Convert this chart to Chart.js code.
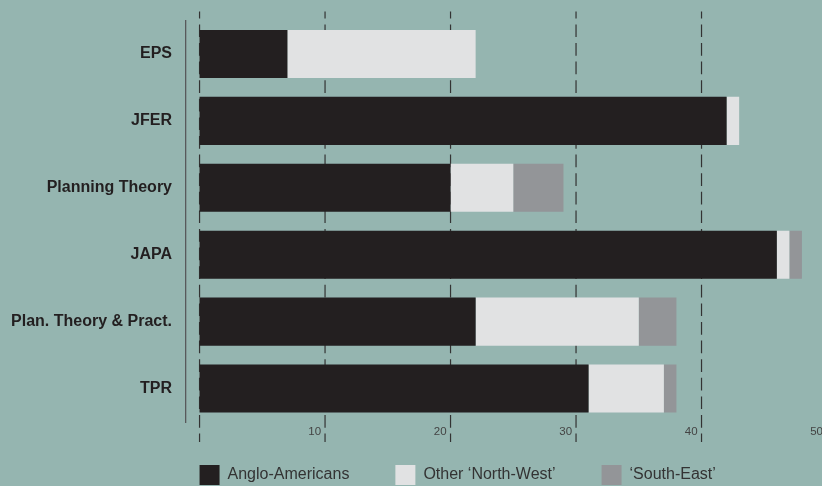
<!DOCTYPE html>
<html>
<head>
<meta charset="utf-8">
<script src="https://cdn.jsdelivr.net/npm/chart.js@4.4.1/dist/chart.umd.min.js"></script>
<style>
    html, body { margin: 0; padding: 0; background: #95b5b0; }
    #wrap { width: 822px; height: 486px; }
</style>
</head>
<body>
<div id="wrap"><canvas id="journalChart" width="822" height="486"></canvas></div>
<script>
const journals = ["EPS", "JFER", "Planning Theory", "JAPA", "Plan. Theory & Pract.", "TPR"];
const angloAmericans = [7, 42, 20, 46, 22, 31];
const otherNorthWest = [15, 1, 5, 1, 13, 6];
const southEast = [0, 0, 4, 1, 3, 1];
const xTicks = [0, 10, 20, 30, 40, 50];

document.addEventListener("DOMContentLoaded", function () {
    Chart.defaults.font.family = "'Liberation Sans', Arial, sans-serif";

    const legendGap = 43; // space between plot bottom and legend boxes

    // dashed vertical lines at each x tick, drawn a bit past the plot area
    const dashedGrid = {
        id: "dashedGrid",
        beforeDatasetsDraw(chart) {
            const { ctx, chartArea, scales } = chart;
            ctx.save();
            ctx.strokeStyle = "#333";
            ctx.lineWidth = 1.2;
            ctx.setLineDash([12.7, 5.9]);
            ctx.lineDashOffset = 5.7;
            xTicks.forEach(v => {
                const px = scales.x.getPixelForValue(v);
                ctx.beginPath();
                ctx.moveTo(px, chartArea.top - 9);
                ctx.lineTo(px, chartArea.bottom + 20);
                ctx.stroke();
            });
            ctx.restore();
        }
    };

    // line the legend up with the start of the bars
    const legendShift = {
        id: "legendShift",
        afterLayout(chart) {
            const lg = chart.legend;
            if (!lg) return;
            const pad = lg.options.labels.padding;
            const dx = chart.scales.x.getPixelForValue(0) - (lg.left + pad);
            const dy = (chart.chartArea.bottom + legendGap - pad) - lg.top;
            lg.left += dx;
            lg.right += dx;
            lg.top += dy;
            lg.bottom += dy;
        }
    };

    new Chart(document.getElementById("journalChart"), {
        type: "bar",
        data: {
            labels: journals,
            datasets: [
                { label: "Anglo-Americans", data: angloAmericans, backgroundColor: "#231f20" },
                { label: "Other \u2018North-West\u2019", data: otherNorthWest, backgroundColor: "#e1e2e3" },
                { label: "\u2018South-East\u2019", data: southEast, backgroundColor: "#939598" }
            ]
        },
        options: {
            indexAxis: "y",
            responsive: false,
            animation: false,
            datasets: { bar: { barPercentage: 0.718, categoryPercentage: 1, borderWidth: 0 } },
            layout: { padding: { top: 20.5, bottom: -30, left: 0, right: 0 } },
            scales: {
                x: {
                    type: "linear",
                    stacked: true,
                    min: -1.08,
                    max: 49.6,
                    afterBuildTicks: scale => { scale.ticks = xTicks.map(v => ({ value: v })); },
                    afterFit: scale => {
                        scale.height = 18;
                        scale.paddingLeft = 0;
                        scale.paddingRight = 0;
                    },
                    grid: { display: false, drawTicks: false },
                    border: { display: false },
                    ticks: {
                        autoSkip: false,
                        maxRotation: 0,
                        align: "end",
                        labelOffset: -4,
                        padding: 3,
                        color: "#444",
                        font: { size: 11.5 },
                        callback: v => (v === 0 ? "" : v)
                    }
                },
                y: {
                    type: "category",
                    stacked: true,
                    afterFit: scale => {
                        scale.width = 186;
                        scale.paddingTop = 0;
                        scale.paddingBottom = 0;
                    },
                    grid: { display: false, drawTicks: false },
                    border: { display: true, color: "#58595b", width: 1.3 },
                    ticks: {
                        padding: 14,
                        color: "#231f20",
                        font: { size: 16, weight: "bold" }
                    }
                }
            },
            plugins: {
                tooltip: { enabled: false },
                legend: {
                    position: "bottom",
                    align: "start",
                    labels: {
                        boxWidth: 20,
                        boxHeight: 20,
                        padding: 46,
                        color: "#333",
                        font: { size: 16 }
                    }
                }
            }
        },
        plugins: [dashedGrid, legendShift]
    });
});
</script>
</body>
</html>
